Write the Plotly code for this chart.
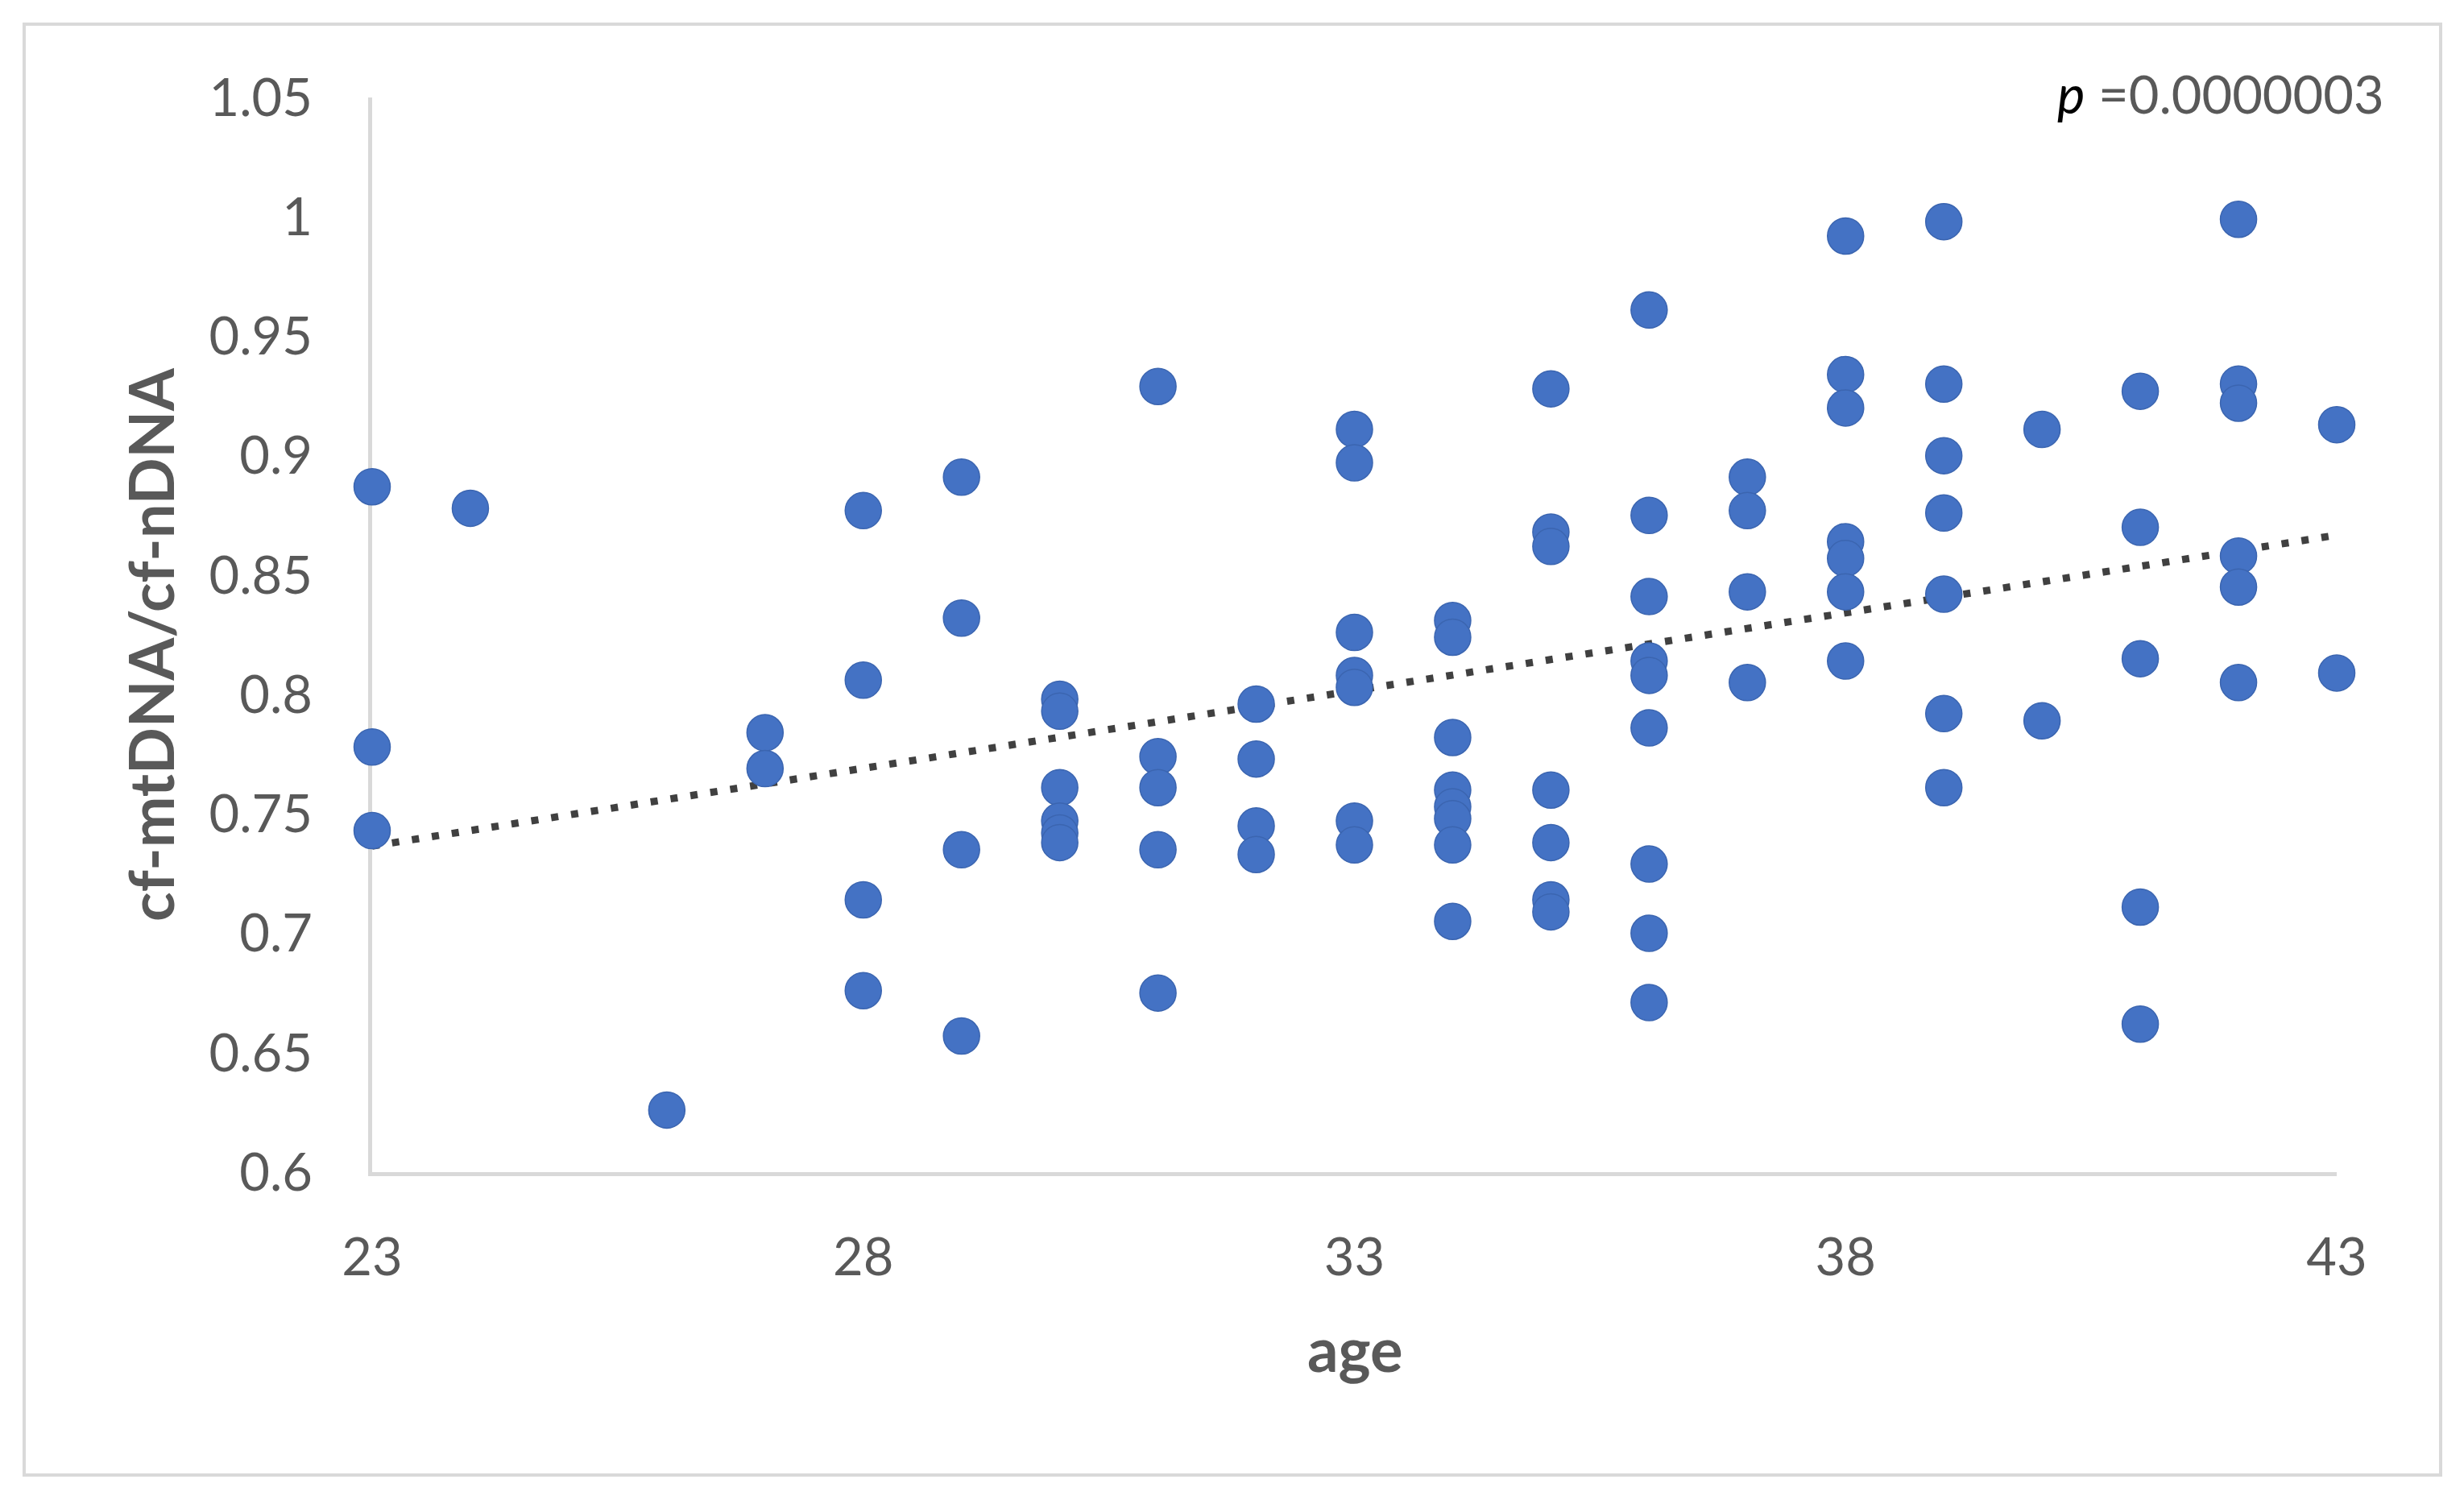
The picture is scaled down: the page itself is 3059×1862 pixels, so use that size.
import numpy as np
import plotly.graph_objects as go

# ---- data ----
age = [
    23, 23, 23,
    24,
    26,
    27, 27,
    28, 28, 28, 28,
    29, 29, 29, 29,
    30, 30, 30, 30, 30, 30,
    31, 31, 31, 31, 31,
    32, 32, 32, 32,
    33, 33, 33, 33, 33, 33, 33,
    34, 34, 34, 34, 34, 34, 34, 34,
    35, 35, 35, 35, 35, 35, 35,
    36, 36, 36, 36, 36, 36, 36, 36, 36,
    37, 37, 37, 37,
    38, 38, 38, 38, 38, 38, 38,
    39, 39, 39, 39, 39, 39, 39,
    40, 40,
    41, 41, 41, 41, 41,
    42, 42, 42, 42, 42, 42,
    43, 43,
]
ratio = [
    0.887, 0.778, 0.743,
    0.878,
    0.626,
    0.784, 0.769,
    0.877, 0.806, 0.714, 0.676,
    0.891, 0.832, 0.735, 0.657,
    0.798, 0.793, 0.761, 0.747, 0.742, 0.738,
    0.929, 0.774, 0.761, 0.735, 0.675,
    0.796, 0.773, 0.745, 0.733,
    0.911, 0.897, 0.826, 0.808, 0.803, 0.747, 0.737,
    0.831, 0.824, 0.782, 0.760, 0.753, 0.748, 0.737, 0.705,
    0.928, 0.868, 0.862, 0.760, 0.738, 0.714, 0.709,
    0.961, 0.875, 0.841, 0.814, 0.808, 0.786, 0.729, 0.700, 0.671,
    0.891, 0.877, 0.843, 0.805,
    0.992, 0.934, 0.920, 0.864, 0.857, 0.843, 0.814,
    0.998, 0.930, 0.900, 0.876, 0.842, 0.792, 0.761,
    0.911, 0.789,
    0.927, 0.870, 0.815, 0.711, 0.662,
    0.999, 0.930, 0.922, 0.858, 0.845, 0.805,
    0.913, 0.809,
]
x_ticks = [23, 28, 33, 38, 43]
x_tick_labels = ["23", "28", "33", "38", "43"]
y_ticks = [0.6, 0.65, 0.7, 0.75, 0.8, 0.85, 0.9, 0.95, 1.0, 1.05]
y_tick_labels = ["0.6", "0.65", "0.7", "0.75", "0.8", "0.85", "0.9", "0.95", "1", "1.05"]
p_label = "0.0000003"

# linear trendline derived from the data
slope, intercept = np.polyfit(age, ratio, 1)
trend_x = [min(age), max(age)]
trend_y = [slope * v + intercept for v in trend_x]

# page is 3059x1862; the html body adds an 8px margin
OFF = 8
W, H = 3059 - 2 * OFF, 1862 - 2 * OFF
PLOT_L, PLOT_R, PLOT_T, PLOT_B = 462, 2901, 121, 1455  # page pixels
L = PLOT_L - OFF
T = PLOT_T - OFF
R = W - (PLOT_R - OFF)
B = H - (PLOT_B - OFF)
PW, PH = PLOT_R - PLOT_L, PLOT_B - PLOT_T


def px_x(p):
    return (p - PLOT_L) / PW


def px_y(p):
    return (PLOT_B - p) / PH


TICK_FONT = dict(family="Lato, 'Open Sans', sans-serif", size=65, color="#595959")
TITLE_FONT = dict(family="Lato, 'Open Sans', sans-serif", size=76, color="#595959")

fig = go.Figure()
fig.add_trace(go.Scatter(
    x=trend_x, y=trend_y, mode="lines",
    line=dict(color="#404040", width=9, dash="9px,16px"),
    hoverinfo="skip", showlegend=False, cliponaxis=False,
))
fig.add_trace(go.Scatter(
    x=age, y=ratio, mode="markers",
    marker=dict(size=45, color="#4472C4", line=dict(color="#3B65B0", width=1.5)),
    showlegend=False, cliponaxis=False,
))

axis_common = dict(
    showgrid=False, zeroline=False, showline=True,
    linecolor="#D9D9D9", linewidth=5, ticks="",
    tickfont=TICK_FONT, layer="below traces",
)
fig.update_xaxes(range=[23, 43], tickvals=x_ticks, ticktext=x_tick_labels,
                 ticklabelstandoff=45, **axis_common)
fig.update_yaxes(range=[0.6, 1.05], tickvals=y_ticks, ticktext=y_tick_labels,
                 ticklabelstandoff=56, **axis_common)

fig.update_layout(
    width=W, height=H,
    margin=dict(l=L, r=R, t=T, b=B, pad=0),
    paper_bgcolor="white", plot_bgcolor="white",
    showlegend=False,
    shapes=[dict(
        type="rect", xref="paper", yref="paper",
        x0=px_x(30), x1=px_x(3030), y0=px_y(1831), y1=px_y(30),
        line=dict(color="#D9D9D9", width=4), fillcolor="rgba(0,0,0,0)", layer="below",
    )],
    annotations=[
        dict(text="<b>cf-mtDNA/cf-nDNA</b>", xref="paper", yref="paper",
             x=px_x(186), y=px_y(800), xanchor="center", yanchor="middle",
             textangle=-90, showarrow=False, font=TITLE_FONT),
        dict(text="<b>age</b>", xref="paper", yref="paper",
             x=px_x(1682), y=px_y(1673), xanchor="center", yanchor="middle",
             showarrow=False, font=TITLE_FONT),
        dict(text="<i><span style='color:#000000'>p</span></i> =" + p_label,
             xref="paper", yref="paper",
             x=px_x(2962), y=px_y(116), xanchor="right", yanchor="middle",
             showarrow=False, font=TICK_FONT),
    ],
)

fig.write_html("out.html")
